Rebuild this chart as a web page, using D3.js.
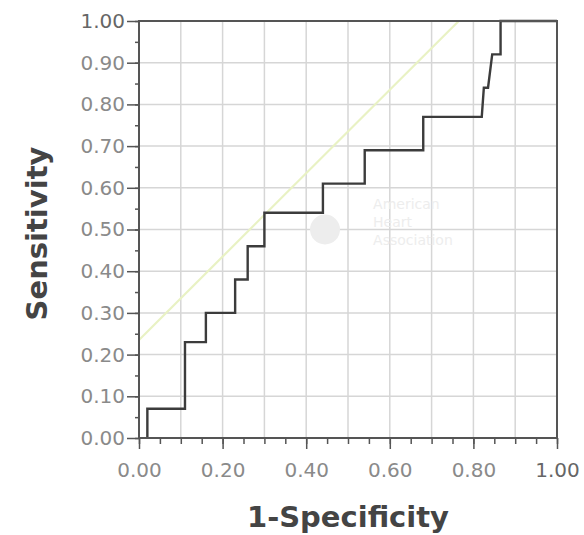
<!DOCTYPE html>
<html>
<head>
<meta charset="utf-8">
<script src="https://cdn.jsdelivr.net/npm/d3@7"></script>
<style>
  body { margin: 0; background: #fff; }
  svg { display: block; }
</style>
</head>
<body>
<div id="chart"></div>
<script>
// ROC curve (1-specificity, sensitivity)
var rocX = [0.02, 0.02, 0.11, 0.11, 0.16, 0.16, 0.23, 0.23, 0.26, 0.26, 0.30, 0.30, 0.44, 0.44, 0.54, 0.54, 0.68, 0.68, 0.82, 0.825, 0.835, 0.845, 0.865, 0.865, 1.00];
var rocY = [0.00, 0.07, 0.07, 0.23, 0.23, 0.30, 0.30, 0.38, 0.38, 0.46, 0.46, 0.54, 0.54, 0.61, 0.61, 0.69, 0.69, 0.77, 0.77, 0.84, 0.84, 0.92, 0.92, 1.00, 1.00];
// the pale tangent line
var refX = [0.00, 0.765];
var refY = [0.235, 1.00];
var xTickLabels = [0, 0.2, 0.4, 0.6, 0.8, 1.0];
var yTickLabels = [0, 0.1, 0.2, 0.3, 0.4, 0.5, 0.6, 0.7, 0.8, 0.9, 1.0];
var minorTicks = d3.range(0, 1.0001, 0.05);

var w = 584, h = 535;
var margin = { top: 21, right: 27, bottom: 97, left: 139 };
var width = w - margin.left - margin.right;   // 418
var height = h - margin.top - margin.bottom;  // 417

var svg = d3.select("#chart").append("svg")
    .attr("width", w)
    .attr("height", h)
    .append("g")
    .attr("transform", "translate(" + margin.left + "," + margin.top + ")");

var x = d3.scaleLinear().domain([0, 1]).range([0, width]);
var y = d3.scaleLinear().domain([0, 1]).range([height, 0]);

// grid
svg.append("g")
    .selectAll("line")
    .data(yTickLabels)
    .enter()
    .append("line")
    .attr("x1", 0).attr("x2", width)
    .attr("y1", d => y(d)).attr("y2", d => y(d))
    .style("stroke", "#d6d6d6")
    .style("stroke-width", 1.5);

svg.append("g")
    .selectAll("line")
    .data(yTickLabels)
    .enter()
    .append("line")
    .attr("y1", 0).attr("y2", height)
    .attr("x1", d => x(d)).attr("x2", d => x(d))
    .style("stroke", "#d6d6d6")
    .style("stroke-width", 1.5);

// faint AHA logo watermark
var wm = svg.append("g").style("fill", "#ededed");
wm.append("circle").attr("cx", x(0.445)).attr("cy", y(0.50)).attr("r", 15);
wm.selectAll("text")
    .data(["American", "Heart", "Association"])
    .enter()
    .append("text")
    .attr("x", x(0.56))
    .attr("y", (d, i) => y(0.55) + i * 18)
    .style("font-family", "'DejaVu Sans', sans-serif")
    .style("font-size", "14px")
    .text(d => d);

// tangent line
svg.append("path")
    .datum(d3.range(refX.length))
    .attr("d", d3.line().x(i => x(refX[i])).y(i => y(refY[i])))
    .style("fill", "none")
    .style("stroke", "#e9f2c4")
    .style("stroke-width", 2.2);

// ROC step curve
svg.append("path")
    .datum(d3.range(rocX.length))
    .attr("d", d3.line().x(i => x(rocX[i])).y(i => y(rocY[i])))
    .style("fill", "none")
    .style("stroke", "#3c3c3c")
    .style("stroke-width", 2.4);

// frame
svg.append("rect")
    .attr("x", 0).attr("y", 0)
    .attr("width", width).attr("height", height)
    .style("fill", "none")
    .style("stroke", "#555")
    .style("stroke-width", 2);

// minor ticks
svg.append("g")
    .attr("transform", "translate(0," + height + ")")
    .call(d3.axisBottom(x).tickValues(minorTicks).tickSize(6).tickFormat(""))
    .call(g => g.select(".domain").remove())
    .call(g => g.selectAll("line").style("stroke", "#555").style("stroke-width", 1.5));

svg.append("g")
    .call(d3.axisLeft(y).tickValues(minorTicks).tickSize(4).tickFormat(""))
    .call(g => g.select(".domain").remove())
    .call(g => g.selectAll("line").style("stroke", "#555").style("stroke-width", 1.5));

// major axes with labels
var xAxis = svg.append("g")
    .attr("transform", "translate(0," + height + ")")
    .call(d3.axisBottom(x).tickValues(xTickLabels).tickSize(11).tickPadding(14).tickFormat(d3.format(".2f")));

var yAxis = svg.append("g")
    .call(d3.axisLeft(y).tickValues(yTickLabels).tickSize(12).tickPadding(2).tickFormat(d3.format(".2f")));

[xAxis, yAxis].forEach(function(a) {
    a.select(".domain").remove();
    a.selectAll("line").style("stroke", "#555").style("stroke-width", 1.5);
    a.selectAll("text")
        .style("font-family", "'DejaVu Sans', sans-serif")
        .style("font-size", "20px")
        .style("fill", "#8a8a8a");
});
xAxis.selectAll("text").filter(d => d === 1).style("fill", "#666");
yAxis.selectAll("text").filter(d => d === 1).style("fill", "#666");

// axis titles
svg.append("text")
    .attr("x", width / 2)
    .attr("y", height + 89)
    .attr("text-anchor", "middle")
    .style("font-family", "'DejaVu Sans', sans-serif")
    .style("font-weight", "bold")
    .style("font-size", "29px")
    .style("fill", "#444")
    .text("1-Specificity");

svg.append("text")
    .attr("transform", "translate(" + (-92) + "," + (height / 2 + 4) + ") rotate(-90)")
    .attr("text-anchor", "middle")
    .style("font-family", "'DejaVu Sans', sans-serif")
    .style("font-weight", "bold")
    .style("font-size", "29px")
    .style("fill", "#444")
    .text("Sensitivity");
</script>
</body>
</html>
